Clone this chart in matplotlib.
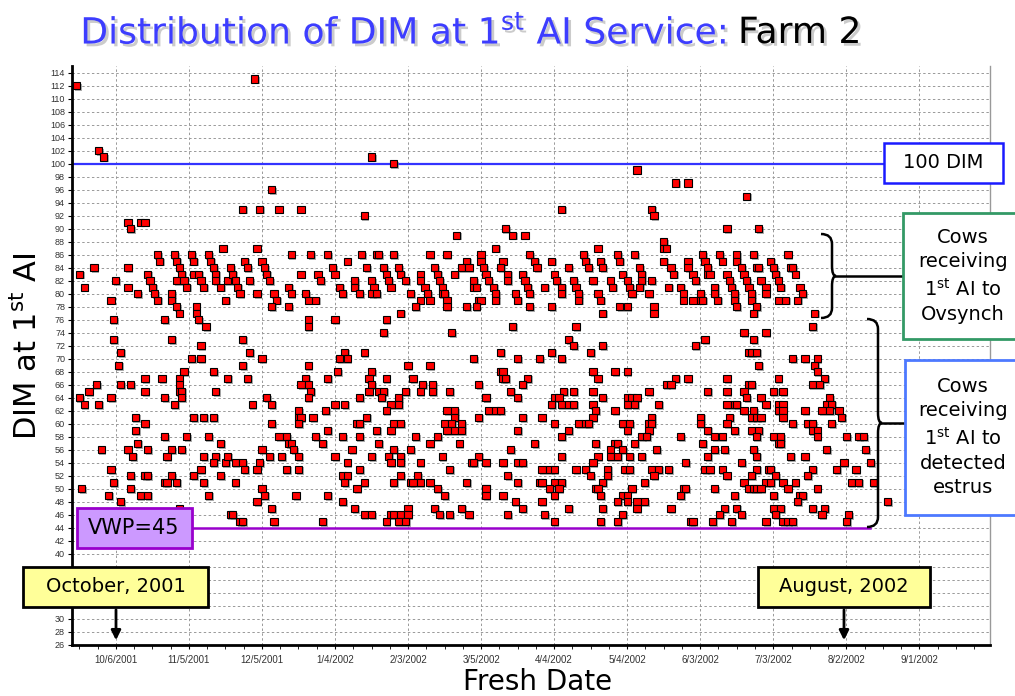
import matplotlib.pyplot as plt
import matplotlib.patheffects as pe
import matplotlib.dates as mdates
import numpy as np
from matplotlib.patches import Rectangle, PathPatch, FancyArrowPatch
from matplotlib.path import Path
from matplotlib.lines import Line2D

# fresh date given as days after 10/6/2001, DIM at first AI
base_date = np.datetime64("2001-10-06")

cows_sep_nov = [
    (-16, 112), (-7, 102), (-5, 101), (57, 113),
    (64, 96), (52, 93), (59, 93), (67, 93), (5, 91), (6, 90), (10, 91), (12, 91),
    (44, 87), (58, 87),
    (17, 86), (18, 85), (24, 86), (25, 85), (26, 84), (27, 83), (25, 82), (28, 82), (29, 81),
    (31, 86), (32, 85), (32, 83), (34, 83), (35, 82), (36, 81),
    (38, 86), (39, 85), (40, 84), (41, 83), (41, 82), (43, 81), (46, 82), (48, 83), (47, 84),
    (49, 82), (50, 81), (51, 80),
    (53, 85), (54, 84), (55, 82), (60, 85), (61, 84), (62, 83), (63, 82), (65, 80), (66, 79),
    (64, 78), (58, 80),
    (-9, 84), (-15, 83), (-13, 81), (0, 82), (5, 84), (5, 81), (9, 80), (13, 83), (14, 82),
    (15, 81), (16, 80), (17, 79), (23, 80), (23, 79), (25, 78), (26, 77), (33, 78), (33, 77),
    (34, 76), (37, 75), (45, 79), (-2, 79), (-1, 76), (20, 76),
    (-1, 73), (23, 73), (2, 71), (1, 69), (35, 72), (31, 70), (35, 70), (52, 73), (55, 71),
    (60, 70), (52, 69), (28, 68), (40, 68),
    (-8, 66), (-11, 65), (-15, 64), (-13, 63), (-7, 63), (-2, 64), (2, 66), (6, 66), (12, 67),
    (12, 65), (19, 67), (26, 67), (26, 66), (26, 65), (27, 65), (27, 64), (20, 64), (24, 63),
    (46, 67), (54, 67), (41, 65), (62, 64), (64, 63), (56, 63),
    (8, 61), (12, 60), (8, 59), (9, 57), (32, 61), (36, 61), (40, 61), (20, 58), (29, 58),
    (38, 58), (43, 57), (64, 60), (67, 58),
    (-6, 56), (5, 56), (7, 55), (13, 56), (23, 56), (27, 56), (21, 55), (36, 55), (41, 55),
    (40, 54), (45, 54), (46, 55), (49, 54), (52, 54), (53, 53), (59, 54), (58, 53), (60, 56),
    (63, 55), (-2, 53), (35, 53),
    (-1, 51), (6, 52), (12, 52), (13, 52), (23, 52), (20, 51), (21, 51), (25, 51), (32, 52),
    (36, 51), (43, 52), (49, 51),
    (-14, 50), (6, 50), (-3, 49), (10, 49), (13, 49), (2, 48), (38, 49), (60, 50), (61, 49),
    (58, 48), (64, 47), (26, 47), (47, 46), (48, 46), (51, 45), (52, 45), (65, 45),
]

cows_dec_feb = [
    (105, 101), (114, 100), (76, 93), (102, 92), (140, 89),
    (72, 86), (80, 86), (87, 86), (101, 86), (107, 86), (108, 86), (114, 86), (129, 86),
    (136, 86), (150, 86), (95, 85), (144, 85), (150, 85),
    (89, 84), (103, 84), (110, 84), (116, 84), (131, 84), (142, 84), (145, 84), (151, 84),
    (76, 83), (83, 83), (90, 83), (111, 83), (117, 83), (125, 83), (132, 83), (139, 83),
    (84, 82), (98, 82), (105, 82), (112, 82), (119, 82), (125, 82), (133, 82), (147, 82),
    (71, 81), (92, 81), (98, 81), (106, 81), (113, 81), (127, 81), (134, 81), (147, 81), (148, 81),
    (72, 80), (78, 80), (93, 80), (100, 80), (105, 80), (107, 80), (121, 80), (128, 80),
    (134, 80), (135, 80),
    (79, 79), (82, 79), (125, 79), (129, 79), (136, 79), (149, 79), (150, 79),
    (71, 78), (123, 78), (136, 78), (144, 78), (148, 78), (117, 77),
    (79, 76), (90, 76), (111, 76), (79, 75), (110, 74), (138, 74),
    (94, 71), (102, 71), (92, 70), (95, 70), (147, 70),
    (79, 69), (120, 69), (129, 69), (91, 68), (105, 68),
    (78, 67), (87, 67), (104, 67), (111, 67), (122, 67),
    (76, 66), (79, 66), (105, 66), (126, 66), (130, 66), (149, 66),
    (80, 65), (104, 65), (108, 65), (110, 65), (119, 65), (125, 65), (130, 65), (137, 65),
    (79, 64), (100, 64), (109, 64), (116, 64), (152, 64),
    (90, 63), (94, 63), (113, 63), (116, 63),
    (75, 62), (86, 62), (111, 62), (136, 62), (139, 62),
    (75, 61), (76, 61), (81, 61), (103, 61), (139, 61), (149, 61),
    (75, 60), (99, 60), (100, 60), (114, 60), (117, 60), (135, 60), (138, 60), (142, 60),
    (87, 59), (107, 59), (113, 59), (136, 59), (139, 59), (142, 59),
    (70, 58), (82, 58), (93, 58), (100, 58), (123, 58), (132, 58),
    (71, 57), (72, 57), (85, 57), (108, 57), (129, 57), (141, 57),
    (73, 56), (97, 56), (114, 56), (121, 56),
    (68, 55), (75, 55), (90, 55), (105, 55), (112, 55), (117, 55), (134, 55), (149, 55),
    (95, 54), (113, 54), (117, 54), (125, 54), (146, 54), (147, 54),
    (70, 53), (75, 53), (100, 53), (137, 53),
    (93, 52), (95, 52), (117, 52), (124, 52),
    (94, 51), (102, 51), (114, 51), (121, 51), (122, 51), (125, 51), (129, 51), (144, 51),
    (99, 50), (132, 50), (152, 50), (74, 49), (87, 49), (135, 49), (93, 48),
    (98, 47), (131, 47), (142, 47), (120, 47),
    (102, 46), (105, 46), (113, 46), (114, 46), (117, 46), (120, 46), (133, 46), (137, 46),
    (145, 46), (85, 45), (111, 45), (116, 45), (119, 45),
]

cows_mar_may = [
    (214, 99), (230, 97), (235, 97), (183, 93), (220, 93), (221, 92),
    (160, 90), (163, 89), (168, 89), (225, 88), (225, 87), (226, 87), (156, 87), (198, 87),
    (170, 86), (192, 86), (206, 86), (213, 86),
    (159, 85), (172, 85), (179, 85), (193, 85), (199, 85), (207, 85), (225, 85), (235, 85),
    (158, 84), (173, 84), (186, 84), (194, 84), (200, 84), (215, 84), (228, 84), (235, 84),
    (152, 83), (161, 83), (167, 83), (180, 83), (208, 83), (216, 83), (229, 83),
    (153, 82), (161, 82), (168, 82), (181, 82), (188, 82), (196, 82), (203, 82), (210, 82),
    (216, 82), (220, 82),
    (155, 81), (169, 81), (176, 81), (183, 81), (189, 81), (204, 81), (211, 81), (215, 81),
    (227, 81), (232, 81),
    (156, 80), (164, 80), (170, 80), (183, 80), (190, 80), (198, 80), (212, 80), (219, 80), (233, 80),
    (156, 79), (165, 79), (190, 79), (199, 79), (233, 79),
    (170, 78), (179, 78), (207, 78), (210, 78), (221, 78), (200, 77), (221, 77),
    (163, 75), (189, 75), (186, 73), (188, 72), (200, 72),
    (158, 71), (179, 71), (195, 71), (165, 70), (174, 70), (183, 70),
    (158, 68), (159, 68), (196, 68), (205, 68), (210, 68),
    (159, 67), (160, 67), (169, 67), (198, 67), (230, 67), (235, 67),
    (167, 66), (226, 66), (228, 66),
    (162, 65), (184, 65), (188, 65), (196, 65), (219, 65),
    (152, 64), (165, 64), (180, 64), (182, 64), (200, 64), (210, 64), (212, 64), (214, 64),
    (179, 63), (183, 63), (186, 63), (188, 63), (196, 63), (210, 63), (213, 63), (223, 63),
    (153, 62), (156, 62), (158, 62), (197, 62), (205, 62),
    (167, 61), (175, 61), (196, 61), (220, 61),
    (180, 60), (190, 60), (193, 60), (194, 60), (208, 60), (211, 60), (219, 60), (220, 60),
    (165, 59), (186, 59), (210, 59), (219, 59),
    (183, 58), (216, 58), (218, 58), (232, 58),
    (172, 57), (197, 57), (205, 57), (206, 57), (213, 57),
    (162, 56), (203, 56), (208, 56), (222, 56),
    (183, 55), (198, 55), (203, 55), (206, 55), (211, 55), (216, 55),
    (152, 54), (159, 54), (165, 54), (167, 54), (196, 54), (234, 54),
    (175, 53), (178, 53), (180, 53), (189, 53), (193, 53), (202, 53), (209, 53), (211, 53),
    (220, 53), (223, 53), (227, 53),
    (161, 52), (195, 52), (202, 52), (221, 52),
    (165, 51), (174, 51), (175, 51), (180, 51), (183, 51), (200, 51), (217, 51),
    (152, 50), (178, 50), (182, 50), (197, 50), (198, 50), (212, 50), (233, 50), (234, 50),
    (152, 49), (159, 49), (180, 49), (199, 49), (208, 49), (210, 49), (232, 49),
    (164, 48), (175, 48), (206, 48), (210, 48), (214, 48), (217, 48),
    (167, 47), (186, 47), (200, 47), (214, 47), (228, 47),
    (161, 46), (176, 46), (208, 46), (180, 45), (199, 45), (206, 45), (236, 45),
]

cows_jun_aug = [
    (259, 95), (251, 90), (264, 90),
    (241, 86), (248, 86), (255, 86), (262, 86), (276, 86),
    (242, 85), (249, 85), (255, 85), (269, 85),
    (243, 84), (257, 84), (263, 84), (264, 84), (270, 84), (277, 84), (278, 84),
    (237, 83), (243, 83), (244, 83), (251, 83), (258, 83), (271, 83), (279, 83),
    (238, 82), (252, 82), (259, 82), (265, 82), (272, 82),
    (246, 81), (253, 81), (260, 81), (267, 81), (273, 81), (281, 81),
    (240, 80), (246, 80), (254, 80), (261, 80), (267, 80), (282, 80),
    (237, 79), (240, 79), (241, 79), (247, 79), (254, 79), (261, 79), (272, 79), (275, 79), (280, 79),
    (255, 78), (263, 78), (262, 77), (287, 77), (286, 75), (258, 74), (267, 74),
    (242, 73), (262, 73), (238, 72), (260, 71), (261, 71), (263, 71),
    (278, 70), (283, 70), (288, 70), (264, 69), (287, 69), (288, 68),
    (251, 67), (272, 67), (291, 67), (260, 66), (261, 66), (286, 66), (289, 66),
    (243, 65), (251, 65), (258, 65), (270, 65), (274, 65),
    (259, 64), (265, 64), (293, 64),
    (251, 63), (254, 63), (255, 63), (267, 63), (272, 63), (274, 63), (292, 63), (294, 63),
    (258, 62), (262, 62), (272, 62), (274, 62), (283, 62), (290, 62), (293, 62), (297, 62),
    (240, 61), (252, 61), (261, 61), (263, 61), (265, 61), (274, 61), (298, 61),
    (240, 60), (251, 60), (278, 60), (284, 60), (286, 60), (294, 60),
    (243, 59), (254, 59), (261, 59), (264, 59), (286, 59), (288, 59),
    (246, 58), (249, 58), (263, 58), (270, 58), (273, 58), (288, 58), (300, 58), (305, 58), (307, 58),
    (241, 57), (272, 57), (273, 57),
    (246, 56), (250, 56), (262, 56), (292, 56), (308, 56),
    (243, 55), (263, 55), (277, 55), (283, 55), (257, 54), (299, 54), (310, 54),
    (242, 53), (244, 53), (249, 53), (263, 53), (268, 53), (269, 53), (286, 53), (296, 53), (304, 53),
    (251, 52), (261, 52), (271, 52), (284, 52),
    (258, 51), (267, 51), (269, 51), (274, 51), (279, 51), (302, 51), (305, 51), (311, 51),
    (246, 50), (260, 50), (262, 50), (263, 50), (265, 50), (276, 50), (288, 50),
    (254, 49), (270, 49), (281, 49), (282, 49), (280, 48), (317, 48),
    (250, 47), (255, 47), (270, 47), (273, 47), (286, 47), (291, 47), (301, 46),
    (248, 46), (257, 46), (271, 46), (290, 46),
    (237, 45), (245, 45), (253, 45), (267, 45), (274, 45), (276, 45), (278, 45), (300, 45),
]

target_dim = 100
vwp = 45

W, H = 1015, 696


def fx(x):
    return x / W


def fy(y):
    return 1 - y / H


def box(x0, y0, x1, y1, fc, ec, lw=1.8):
    fig.add_artist(Rectangle((fx(x0), fy(y1)), fx(x1 - x0), (y1 - y0) / H,
                             transform=fig.transFigure, fc=fc, ec=ec, lw=lw, zorder=5))


def brace(x0, y_top, y_bot, line_to):
    xv = x0 + 11
    tip = x0 + 15
    ym = (y_top + y_bot) / 2
    r = 10
    pts = [(x0, y_top), (xv, y_top), (xv, y_top + r), (xv, ym - r), (xv, ym), (tip, ym),
           (xv, ym), (xv, ym + r), (xv, y_bot - r), (xv, y_bot), (x0, y_bot)]
    codes = [Path.MOVETO, Path.CURVE3, Path.CURVE3, Path.LINETO, Path.CURVE3, Path.CURVE3,
             Path.CURVE3, Path.CURVE3, Path.LINETO, Path.CURVE3, Path.CURVE3]
    verts = [(fx(a), fy(b)) for a, b in pts]
    fig.add_artist(PathPatch(Path(verts, codes), transform=fig.transFigure,
                             fill=False, ec="black", lw=1.8, zorder=5))
    fig.add_artist(Line2D([fx(tip), fx(line_to)], [fy(ym), fy(ym)],
                          transform=fig.transFigure, color="black", lw=1.8, zorder=5))


all_cows = cows_sep_nov + cows_dec_feb + cows_mar_may + cows_jun_aug
fresh_day = np.array([c[0] for c in all_cows])
dim = np.array([c[1] for c in all_cows])
fresh_date = base_date + fresh_day.astype("timedelta64[D]")

fig = plt.figure(figsize=(10.15, 6.96), dpi=100)
ax = fig.add_axes([fx(72), fy(645), fx(990 - 72), (645 - 66) / H])

ax.plot(fresh_date, dim, ls="none", marker="s", ms=5.2, mfc="#ff0000", mec="black", mew=0.8,
        zorder=3, path_effects=[pe.SimplePatchShadow(offset=(1.2, -1.2), shadow_rgbFace="#777777", alpha=0.6),
                                pe.Normal()])
ax.axhline(target_dim, color="#3333ff", lw=1.6, zorder=2)

ax.set_ylim(26, 115)
ax.set_xlim(base_date - np.timedelta64(18, "D"), base_date + np.timedelta64(359, "D"))

major = [base_date + np.timedelta64(30 * k, "D") for k in range(12)]
ax.set_xticks(major)
labels = []
for d in major:
    d = d.astype(object)
    labels.append("%d/%d/%d" % (d.month, d.day, d.year))
ax.set_xticklabels(labels, fontsize=7, color="#333333", family="Liberation Sans")
base_num = mdates.date2num(base_date)
ax.set_xticks([base_num + 7.5 * k for k in range(-2, 48)], minor=True)

# labels 32-38 sit under the "October, 2001" callout in the original
y_ticks = list(range(26, 115, 2))
ax.set_yticks(y_ticks)
ax.set_yticklabels(["" if 32 <= v <= 38 else str(v) for v in y_ticks],
                   family="Liberation Sans")
ax.tick_params(axis="y", labelsize=6.5, labelcolor="#333333", length=3, pad=2)
ax.tick_params(axis="x", which="both", length=3, pad=4)

ax.grid(True, which="major", ls=(0, (2.5, 2.5)), color="#999999", lw=0.7)
ax.set_axisbelow(True)
for s in ["left", "bottom"]:
    ax.spines[s].set_linewidth(2)
ax.spines["top"].set_visible(False)
ax.spines["right"].set_color("#999999")
ax.spines["right"].set_linewidth(1)

# title
shadow = [pe.SimplePatchShadow(offset=(2, -2), shadow_rgbFace="#999999", alpha=0.5), pe.Normal()]
fig.text(fx(727), fy(33), "Distribution of DIM at 1$^{\\mathrm{st}}$ AI Service:", ha="right",
         va="center", fontsize=26, color="#3d3dff", path_effects=shadow)
fig.text(fx(738), fy(33), "Farm 2", ha="left", va="center", fontsize=26, color="black",
         path_effects=shadow)
fig.text(fx(27), fy(346), "DIM at 1$^{\\mathrm{st}}$ AI", rotation=90, ha="center", va="center",
         fontsize=22)
fig.text(fx(538), fy(682), "Fresh Date", ha="center", va="center", fontsize=20)

# 100 DIM label
box(884, 143, 1003, 183, "white", "#1a1aff")
fig.text(fx(943), fy(163), "100 DIM", ha="center", va="center", fontsize=14, zorder=6)

# VWP line and label
fig.add_artist(Line2D([fx(192), fx(870)], [ax.transData.transform((0, 44))[1] / H] * 2,
                      transform=fig.transFigure, color="#9900cc", lw=1.8, zorder=4))
box(77, 508, 192, 548, "#cc99ff", "#9900cc", lw=2)
fig.text(fx(134), fy(528), "VWP=%d" % vwp, ha="center", va="center", fontsize=15, zorder=6)

# month callouts
box(23, 567, 208, 607, "#ffff99", "black", lw=2)
fig.text(fx(116), fy(587), "October, 2001", ha="center", va="center", fontsize=14, zorder=6)
fig.add_artist(FancyArrowPatch((fx(116), fy(607)), (fx(116), fy(643)), transform=fig.transFigure,
                               arrowstyle="-|>", mutation_scale=14, lw=2, color="black", zorder=6))
box(758, 567, 930, 607, "#ffff99", "black", lw=2)
fig.text(fx(844), fy(587), "August, 2002", ha="center", va="center", fontsize=14, zorder=6)
fig.add_artist(FancyArrowPatch((fx(844), fy(607)), (fx(844), fy(643)), transform=fig.transFigure,
                               arrowstyle="-|>", mutation_scale=14, lw=2, color="black", zorder=6))

# braces and explanation boxes
brace(821, 234, 318, 903)
brace(867, 319, 527, 905)
box(903, 213, 1040, 339, "white", "#339966", lw=2)
fig.text(fx(963), fy(276), "Cows\nreceiving\n1$^{\\mathrm{st}}$ AI to\nOvsynch", ha="center",
         va="center", fontsize=14, linespacing=1.35, zorder=6)
box(905, 360, 1040, 515, "white", "#4d79ff", lw=2)
fig.text(fx(963), fy(437), "Cows\nreceiving\n1$^{\\mathrm{st}}$ AI to\ndetected\nestrus",
         ha="center", va="center", fontsize=14, linespacing=1.35, zorder=6)

fig.savefig("out.png", dpi=100)
